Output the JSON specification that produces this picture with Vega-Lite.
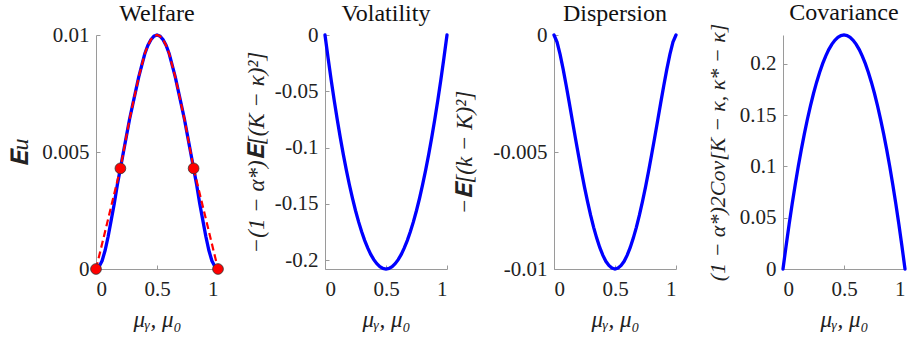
{
  "$schema": "https://vega.github.io/schema/vega-lite/v6.json",
  "autosize": {"type": "none"},
  "padding": {"left": 96, "top": 35, "right": 813, "bottom": 302},
  "background": "white",
  "datasets": {
    "welfare": [
      {"x": 0, "y": 0}, {"x": 0.025, "y": 0.0001}, {"x": 0.05, "y": 0.00035}, {"x": 0.075, "y": 0.0008},
      {"x": 0.1, "y": 0.0014}, {"x": 0.125, "y": 0.0021}, {"x": 0.15, "y": 0.0028}, {"x": 0.175, "y": 0.0036},
      {"x": 0.2, "y": 0.0043}, {"x": 0.225, "y": 0.005}, {"x": 0.25, "y": 0.0057}, {"x": 0.275, "y": 0.0064},
      {"x": 0.3, "y": 0.007}, {"x": 0.325, "y": 0.0076}, {"x": 0.35, "y": 0.0082}, {"x": 0.375, "y": 0.0087},
      {"x": 0.4, "y": 0.0092}, {"x": 0.425, "y": 0.00955}, {"x": 0.45, "y": 0.0098}, {"x": 0.475, "y": 0.00995},
      {"x": 0.5, "y": 0.01},
      {"x": 0.525, "y": 0.00995}, {"x": 0.55, "y": 0.0098}, {"x": 0.575, "y": 0.00955}, {"x": 0.6, "y": 0.0092},
      {"x": 0.625, "y": 0.0087}, {"x": 0.65, "y": 0.0082}, {"x": 0.675, "y": 0.0076}, {"x": 0.7, "y": 0.007},
      {"x": 0.725, "y": 0.0064}, {"x": 0.75, "y": 0.0057}, {"x": 0.775, "y": 0.005}, {"x": 0.8, "y": 0.0043},
      {"x": 0.825, "y": 0.0036}, {"x": 0.85, "y": 0.0028}, {"x": 0.875, "y": 0.0021}, {"x": 0.9, "y": 0.0014},
      {"x": 0.925, "y": 0.0008}, {"x": 0.95, "y": 0.00035}, {"x": 0.975, "y": 0.0001}, {"x": 1, "y": 0}
    ],
    "welfare_red": [
      {"x": 0, "y": 0},
      {"x": 0.2, "y": 0.0043}, {"x": 0.225, "y": 0.005}, {"x": 0.25, "y": 0.0057}, {"x": 0.275, "y": 0.0064},
      {"x": 0.3, "y": 0.007}, {"x": 0.325, "y": 0.0076}, {"x": 0.35, "y": 0.0082}, {"x": 0.375, "y": 0.0087},
      {"x": 0.4, "y": 0.0092}, {"x": 0.425, "y": 0.00955}, {"x": 0.45, "y": 0.0098}, {"x": 0.475, "y": 0.00995},
      {"x": 0.5, "y": 0.01},
      {"x": 0.525, "y": 0.00995}, {"x": 0.55, "y": 0.0098}, {"x": 0.575, "y": 0.00955}, {"x": 0.6, "y": 0.0092},
      {"x": 0.625, "y": 0.0087}, {"x": 0.65, "y": 0.0082}, {"x": 0.675, "y": 0.0076}, {"x": 0.7, "y": 0.007},
      {"x": 0.725, "y": 0.0064}, {"x": 0.75, "y": 0.0057}, {"x": 0.775, "y": 0.005}, {"x": 0.8, "y": 0.0043},
      {"x": 1, "y": 0}
    ],
    "dots": [
      {"x": 0, "y": 0}, {"x": 0.2, "y": 0.0043}, {"x": 0.8, "y": 0.0043}, {"x": 1, "y": 0}
    ],
    "volatility": [
      {"x": 0, "y": 0}, {"x": 0.025, "y": -0.0203}, {"x": 0.05, "y": -0.0395}, {"x": 0.075, "y": -0.0577},
      {"x": 0.1, "y": -0.0749}, {"x": 0.125, "y": -0.091}, {"x": 0.15, "y": -0.1061}, {"x": 0.175, "y": -0.1201},
      {"x": 0.2, "y": -0.1331}, {"x": 0.225, "y": -0.1451}, {"x": 0.25, "y": -0.156}, {"x": 0.275, "y": -0.1659},
      {"x": 0.3, "y": -0.1747}, {"x": 0.325, "y": -0.1825}, {"x": 0.35, "y": -0.1893}, {"x": 0.375, "y": -0.195},
      {"x": 0.4, "y": -0.1997}, {"x": 0.425, "y": -0.2033}, {"x": 0.45, "y": -0.2059}, {"x": 0.475, "y": -0.2075},
      {"x": 0.5, "y": -0.208},
      {"x": 0.525, "y": -0.2075}, {"x": 0.55, "y": -0.2059}, {"x": 0.575, "y": -0.2033}, {"x": 0.6, "y": -0.1997},
      {"x": 0.625, "y": -0.195}, {"x": 0.65, "y": -0.1893}, {"x": 0.675, "y": -0.1825}, {"x": 0.7, "y": -0.1747},
      {"x": 0.725, "y": -0.1659}, {"x": 0.75, "y": -0.156}, {"x": 0.775, "y": -0.1451}, {"x": 0.8, "y": -0.1331},
      {"x": 0.825, "y": -0.1201}, {"x": 0.85, "y": -0.1061}, {"x": 0.875, "y": -0.091}, {"x": 0.9, "y": -0.0749},
      {"x": 0.925, "y": -0.0577}, {"x": 0.95, "y": -0.0395}, {"x": 0.975, "y": -0.0203}, {"x": 1, "y": 0}
    ],
    "dispersion": [
      {"x": 0, "y": 0}, {"x": 0.025, "y": -0.0003}, {"x": 0.05, "y": -0.00083}, {"x": 0.075, "y": -0.00146},
      {"x": 0.1, "y": -0.00216}, {"x": 0.125, "y": -0.00289}, {"x": 0.15, "y": -0.00364}, {"x": 0.175, "y": -0.00439},
      {"x": 0.2, "y": -0.00512}, {"x": 0.225, "y": -0.00583}, {"x": 0.25, "y": -0.0065}, {"x": 0.275, "y": -0.00712},
      {"x": 0.3, "y": -0.0077}, {"x": 0.325, "y": -0.00822}, {"x": 0.35, "y": -0.00868}, {"x": 0.375, "y": -0.00908},
      {"x": 0.4, "y": -0.00941}, {"x": 0.425, "y": -0.00967}, {"x": 0.45, "y": -0.00985}, {"x": 0.475, "y": -0.00996},
      {"x": 0.5, "y": -0.01},
      {"x": 0.525, "y": -0.00996}, {"x": 0.55, "y": -0.00985}, {"x": 0.575, "y": -0.00967}, {"x": 0.6, "y": -0.00941},
      {"x": 0.625, "y": -0.00908}, {"x": 0.65, "y": -0.00868}, {"x": 0.675, "y": -0.00822}, {"x": 0.7, "y": -0.0077},
      {"x": 0.725, "y": -0.00712}, {"x": 0.75, "y": -0.0065}, {"x": 0.775, "y": -0.00583}, {"x": 0.8, "y": -0.00512},
      {"x": 0.825, "y": -0.00439}, {"x": 0.85, "y": -0.00364}, {"x": 0.875, "y": -0.00289}, {"x": 0.9, "y": -0.00216},
      {"x": 0.925, "y": -0.00146}, {"x": 0.95, "y": -0.00083}, {"x": 0.975, "y": -0.0003}, {"x": 1, "y": 0}
    ],
    "covariance": [
      {"x": 0, "y": 0}, {"x": 0.025, "y": 0.0222}, {"x": 0.05, "y": 0.0433}, {"x": 0.075, "y": 0.0633},
      {"x": 0.1, "y": 0.0821}, {"x": 0.125, "y": 0.0998}, {"x": 0.15, "y": 0.1163}, {"x": 0.175, "y": 0.1317},
      {"x": 0.2, "y": 0.1459}, {"x": 0.225, "y": 0.159}, {"x": 0.25, "y": 0.171}, {"x": 0.275, "y": 0.1818},
      {"x": 0.3, "y": 0.1915}, {"x": 0.325, "y": 0.2001}, {"x": 0.35, "y": 0.2075}, {"x": 0.375, "y": 0.2138},
      {"x": 0.4, "y": 0.2189}, {"x": 0.425, "y": 0.2229}, {"x": 0.45, "y": 0.2257}, {"x": 0.475, "y": 0.2274},
      {"x": 0.5, "y": 0.228},
      {"x": 0.525, "y": 0.2274}, {"x": 0.55, "y": 0.2257}, {"x": 0.575, "y": 0.2229}, {"x": 0.6, "y": 0.2189},
      {"x": 0.625, "y": 0.2138}, {"x": 0.65, "y": 0.2075}, {"x": 0.675, "y": 0.2001}, {"x": 0.7, "y": 0.1915},
      {"x": 0.725, "y": 0.1818}, {"x": 0.75, "y": 0.171}, {"x": 0.775, "y": 0.159}, {"x": 0.8, "y": 0.1459},
      {"x": 0.825, "y": 0.1317}, {"x": 0.85, "y": 0.1163}, {"x": 0.875, "y": 0.0998}, {"x": 0.9, "y": 0.0821},
      {"x": 0.925, "y": 0.0633}, {"x": 0.95, "y": 0.0433}, {"x": 0.975, "y": 0.0222}, {"x": 1, "y": 0}
    ]
  },
  "config": {
    "font": "Liberation Serif",
    "view": {"stroke": null},
    "axis": {
      "grid": false,
      "domainColor": "#9a9a9a",
      "domainWidth": 1,
      "tickColor": "#9a9a9a",
      "tickSize": -4,
      "labelFont": "Liberation Serif",
      "labelFontSize": 21,
      "labelColor": "#222222",
      "labelPadding": 11,
      "titleFont": "Liberation Serif",
      "titleFontSize": 23,
      "titleFontWeight": "normal",
      "titleFontStyle": "italic",
      "titleColor": "#222222",
      "titlePadding": 6
    },
    "axisX": {"titlePadding": 9, "labelPadding": 13},
    "title": {"font": "Liberation Serif", "fontSize": 24, "fontWeight": "normal", "color": "#111111", "offset": -2},
    "line": {"strokeWidth": 3.3, "color": "#0000ff", "strokeCap": "round", "clip": false}
  },
  "bounds": "flush",
  "spacing": 107,
  "hconcat": [
    {
      "width": 122,
      "height": 234,
      "title": {"text": "Welfare", "offset": -2, "font": "Liberation Serif"},
      "layer": [
        {
          "data": {"name": "welfare"},
          "mark": {"type": "line", "color": "#0000ff", "strokeWidth": 3.3},
          "encoding": {
            "x": {"field": "x", "type": "quantitative", "scale": {"domain": [0, 1], "nice": false},
                  "axis": {"values": [0, 0.2, 0.5, 0.8, 1], "labelFont": "Liberation Serif", "titleFont": "Liberation Serif", "labelExpr": "datum.value == 0.2 ? 'μˡ' : datum.value == 0.8 ? 'μʰ' : toString(datum.value)", "title": "μᵧ, μ₀", "titleFontStyle": "italic"}},
            "y": {"field": "y", "type": "quantitative", "scale": {"domain": [0, 0.01], "nice": false, "zero": false},
                  "axis": {"values": [0, 0.005, 0.01], "labelFont": "Liberation Serif", "titleFont": "Liberation Serif", "labelExpr": "toString(datum.value)", "title": "𝐄u", "titleFontStyle": "italic", "titleFontSize": 24, "titlePadding": 9}}
          }
        },
        {
          "data": {"name": "welfare_red"},
          "mark": {"type": "line", "color": "#ff0000", "strokeWidth": 2.2, "strokeDash": [7, 4], "strokeCap": "butt"},
          "encoding": {
            "x": {"field": "x", "type": "quantitative"},
            "y": {"field": "y", "type": "quantitative"}
          }
        },
        {
          "data": {"name": "dots"},
          "mark": {"type": "circle", "fill": "#ff0000", "stroke": "#333333", "strokeWidth": 0.8, "size": 115, "opacity": 1, "clip": false},
          "encoding": {
            "x": {"field": "x", "type": "quantitative"},
            "y": {"field": "y", "type": "quantitative"}
          }
        }
      ]
    },
    {
      "width": 122,
      "height": 234,
      "title": {"text": "Volatility", "offset": -2, "font": "Liberation Serif"},
      "data": {"name": "volatility"},
      "mark": {"type": "line"},
      "encoding": {
        "x": {"field": "x", "type": "quantitative", "scale": {"domain": [0, 1], "nice": false},
              "axis": {"values": [0, 0.5, 1], "labelFont": "Liberation Serif", "titleFont": "Liberation Serif", "labelExpr": "toString(datum.value)", "title": "μᵧ, μ₀", "titleFontStyle": "italic"}},
        "y": {"field": "y", "type": "quantitative", "scale": {"domain": [-0.208, 0], "nice": false, "zero": false},
              "axis": {"values": [0, -0.05, -0.1, -0.15, -0.2], "labelFont": "Liberation Serif", "titleFont": "Liberation Serif", "labelExpr": "toString(datum.value)", "title": "−(1 − α*)𝐄[(K − κ)²]", "titleFontStyle": "italic", "titlePadding": 6}}
      }
    },
    {
      "width": 122,
      "height": 234,
      "title": {"text": "Dispersion", "offset": -2, "font": "Liberation Serif"},
      "data": {"name": "dispersion"},
      "mark": {"type": "line"},
      "encoding": {
        "x": {"field": "x", "type": "quantitative", "scale": {"domain": [0, 1], "nice": false},
              "axis": {"values": [0, 0.5, 1], "labelFont": "Liberation Serif", "titleFont": "Liberation Serif", "labelExpr": "toString(datum.value)", "title": "μᵧ, μ₀", "titleFontStyle": "italic"}},
        "y": {"field": "y", "type": "quantitative", "scale": {"domain": [-0.01, 0], "nice": false, "zero": false},
              "axis": {"values": [0, -0.005, -0.01], "labelFont": "Liberation Serif", "titleFont": "Liberation Serif", "labelExpr": "toString(datum.value)", "title": "−𝐄[(k − K)²]", "titleFontStyle": "italic", "titlePadding": 16}}
      }
    },
    {
      "width": 122,
      "height": 234,
      "title": {"text": "Covariance", "offset": -2, "font": "Liberation Serif"},
      "data": {"name": "covariance"},
      "mark": {"type": "line"},
      "encoding": {
        "x": {"field": "x", "type": "quantitative", "scale": {"domain": [0, 1], "nice": false},
              "axis": {"values": [0, 0.5, 1], "labelFont": "Liberation Serif", "titleFont": "Liberation Serif", "labelExpr": "toString(datum.value)", "title": "μᵧ, μ₀", "titleFontStyle": "italic"}},
        "y": {"field": "y", "type": "quantitative", "scale": {"domain": [0, 0.228], "nice": false, "zero": false},
              "axis": {"values": [0, 0.05, 0.1, 0.15, 0.2], "labelFont": "Liberation Serif", "titleFont": "Liberation Serif", "labelExpr": "toString(datum.value)", "title": "(1 − α*)2Cov[K − κ, κ* − κ]", "titleFontStyle": "italic", "titleFontSize": 22, "titlePadding": 10}}
      }
    }
  ]
}
